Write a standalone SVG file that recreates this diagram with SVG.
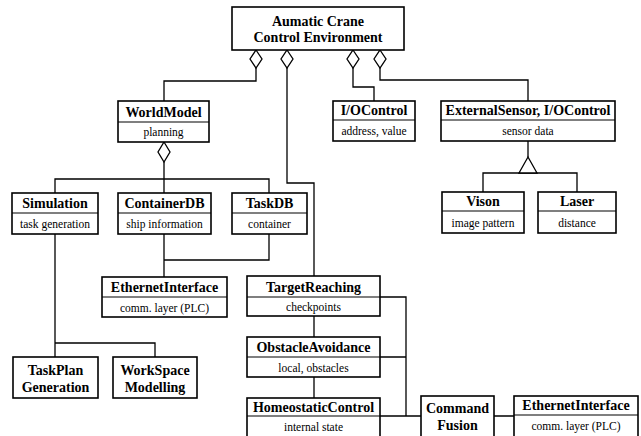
<svg xmlns="http://www.w3.org/2000/svg" width="641" height="436" viewBox="0 0 641 436">
<style>
  .box { fill: #fff; stroke: #000; stroke-width: 1.6; }
  .div { stroke: #000; stroke-width: 1.2; }
  .h { font-family: "Liberation Serif", "Times New Roman", serif; font-weight: bold; font-size: 14px; text-anchor: middle; fill: #000; }
  .a { font-family: "Liberation Serif", "Times New Roman", serif; font-size: 11.5px; text-anchor: middle; fill: #000; }
  .ln { fill: none; stroke: #000; stroke-width: 1.3; }
  .dia { fill: #fff; stroke: #000; stroke-width: 1.3; }
</style>
<rect width="641" height="436" fill="#fff"/>
<g id="connectors">
  <path class="ln" d="M256 68 V81 H164 V101"/>
  <path class="ln" d="M287 68 V183 H314 V276"/>
  <path class="ln" d="M353 68 V87 H374 V101"/>
  <path class="ln" d="M380 68 V80 H528 V101"/>
  <path class="ln" d="M164 162 V193 M55 193 V179 H269 V193"/>
  <path class="ln" d="M269 234 V260 H164 M164 234 V277"/>
  <path class="ln" d="M528 141 V157 M483 192 V173 H577 V192"/>
  <path class="ln" d="M55 234 V357 M55 343 H155 V357"/>
  <path class="ln" d="M314 316 V337 M314 377 V398"/>
  <path class="ln" d="M380 297 H406 V416 M380 357 H406 M380 416 H421 M494 416 H514"/>
  <polygon class="dia" points="256,50 262,59 256,68 250,59"/>
  <polygon class="dia" points="287,50 293,59 287,68 281,59"/>
  <polygon class="dia" points="353,50 359,59 353,68 347,59"/>
  <polygon class="dia" points="380,50 386,59 380,68 374,59"/>
  <polygon class="dia" points="164,142 170,152 164,162 158,152"/>
  <polygon class="dia" points="528,157 537,173 519,173"/>
</g>
<g id="crane">
  <rect class="box" x="232" y="7" width="172" height="43"/>
  <text class="h" x="318" y="26">Aumatic Crane</text>
  <text class="h" x="318" y="42">Control Environment</text>
</g>
<g id="worldmodel">
  <rect class="box" x="118" y="101" width="91" height="41"/>
  <line class="div" x1="118" y1="122" x2="209" y2="122"/>
  <text class="h" x="163.5" y="117">WorldModel</text>
  <text class="a" x="163.5" y="136">planning</text>
</g>
<g id="iocontrol">
  <rect class="box" x="333" y="101" width="82" height="40"/>
  <line class="div" x1="333" y1="120" x2="415" y2="120"/>
  <text class="h" x="374" y="115">I/OControl</text>
  <text class="a" x="374" y="135">address, value</text>
</g>
<g id="externalsensor">
  <rect class="box" x="441" y="101" width="174" height="40"/>
  <line class="div" x1="441" y1="120" x2="615" y2="120"/>
  <text class="h" x="528" y="115">ExternalSensor, I/OControl</text>
  <text class="a" x="528" y="135">sensor data</text>
</g>
<g id="simulation">
  <rect class="box" x="12" y="193" width="86" height="41"/>
  <line class="div" x1="12" y1="213" x2="98" y2="213"/>
  <text class="h" x="55" y="208">Simulation</text>
  <text class="a" x="55" y="228">task generation</text>
</g>
<g id="containerdb">
  <rect class="box" x="118" y="193" width="93" height="41"/>
  <line class="div" x1="118" y1="213" x2="211" y2="213"/>
  <text class="h" x="164.5" y="208">ContainerDB</text>
  <text class="a" x="164.5" y="228">ship information</text>
</g>
<g id="taskdb">
  <rect class="box" x="232" y="193" width="75" height="41"/>
  <line class="div" x1="232" y1="213" x2="307" y2="213"/>
  <text class="h" x="269.5" y="208">TaskDB</text>
  <text class="a" x="269.5" y="228">container</text>
</g>
<g id="vision">
  <rect class="box" x="442" y="192" width="82" height="41"/>
  <line class="div" x1="442" y1="211" x2="524" y2="211"/>
  <text class="h" x="483" y="206">Vison</text>
  <text class="a" x="483" y="227">image pattern</text>
</g>
<g id="laser">
  <rect class="box" x="538" y="192" width="78" height="41"/>
  <line class="div" x1="538" y1="211" x2="616" y2="211"/>
  <text class="h" x="577" y="206">Laser</text>
  <text class="a" x="577" y="227">distance</text>
</g>
<g id="ethernet1">
  <rect class="box" x="102" y="277" width="125" height="40"/>
  <line class="div" x1="102" y1="297" x2="227" y2="297"/>
  <text class="h" x="164.5" y="292">EthernetInterface</text>
  <text class="a" x="164.5" y="312">comm. layer (PLC)</text>
</g>
<g id="targetreaching">
  <rect class="box" x="247" y="276" width="133" height="40"/>
  <line class="div" x1="247" y1="297" x2="380" y2="297"/>
  <text class="h" x="313.5" y="292">TargetReaching</text>
  <text class="a" x="313.5" y="311">checkpoints</text>
</g>
<g id="obstacleavoidance">
  <rect class="box" x="247" y="337" width="133" height="40"/>
  <line class="div" x1="247" y1="357" x2="380" y2="357"/>
  <text class="h" x="313.5" y="352">ObstacleAvoidance</text>
  <text class="a" x="313.5" y="372">local, obstacles</text>
</g>
<g id="homeostatic">
  <rect class="box" x="247" y="398" width="133" height="50"/>
  <line class="div" x1="247" y1="416" x2="380" y2="416"/>
  <text class="h" x="313.5" y="412">HomeostaticControl</text>
  <text class="a" x="313.5" y="431">internal state</text>
</g>
<g id="taskplan">
  <rect class="box" x="13" y="357" width="85" height="41"/>
  <text class="h" x="55.5" y="375">TaskPlan</text>
  <text class="h" x="55.5" y="392">Generation</text>
</g>
<g id="workspace">
  <rect class="box" x="113" y="357" width="84" height="41"/>
  <text class="h" x="155" y="375">WorkSpace</text>
  <text class="h" x="155" y="392">Modelling</text>
</g>
<g id="commandfusion">
  <rect class="box" x="421" y="396" width="73" height="50"/>
  <text class="h" x="457.5" y="413">Command</text>
  <text class="h" x="457.5" y="430">Fusion</text>
</g>
<g id="ethernet2">
  <rect class="box" x="514" y="396" width="124" height="50"/>
  <line class="div" x1="514" y1="415" x2="638" y2="415"/>
  <text class="h" x="576" y="410">EthernetInterface</text>
  <text class="a" x="576" y="430">comm. layer (PLC)</text>
</g>
</svg>
